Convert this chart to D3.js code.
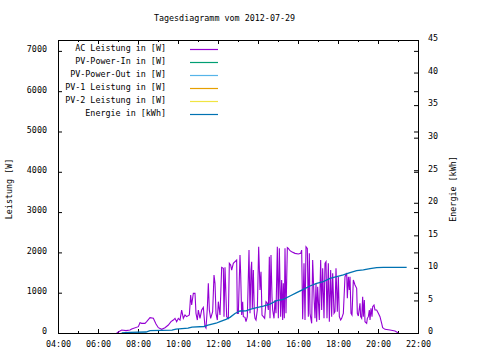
<!DOCTYPE html>
<html><head><meta charset="utf-8">
<script src="https://cdn.jsdelivr.net/npm/d3@7/dist/d3.min.js"></script>
<style>
html,body{margin:0;padding:0;background:#fff;}
svg{display:block;}
text{font-family:"DejaVu Sans Mono",monospace;font-size:8.4px;fill:#000;}
</style></head>
<body>
<svg id="c" width="480" height="360"></svg>
<script>
const title = "Tagesdiagramm vom 2012-07-29";
const yLabel = "Leistung [W]";
const y2Label = "Energie [kWh]";
const seriesNames = ["AC Leistung in [W]","PV-Power-In in [W]","PV-Power-Out in [W]","PV-1 Leistung in [W]","PV-2 Leistung in [W]","Energie in [kWh]"];
const seriesColors = ["#9400d3","#009e73","#56b4e9","#e69f00","#f0e442","#0072b2"];
const xTickLabels = ["04:00","06:00","08:00","10:00","12:00","14:00","16:00","18:00","20:00","22:00"];
const yTicks = [0,1000,2000,3000,4000,5000,6000,7000];
const y2Ticks = [0,5,10,15,20,25,30,35,40,45];

const acTime = ["06:56","07:11","07:24","07:36","07:41","08:01","08:06","08:11","08:21","08:26","08:36","08:46","08:54","09:01","09:11","09:21","09:31","09:39","09:46","09:51","09:56","10:01","10:06","10:11","10:16","10:21","10:26","10:34","10:38","10:41","10:46","10:51","10:54","10:58","11:01","11:06","11:11","11:16","11:21","11:24","11:28","11:31","11:34","11:38","11:44","11:48","11:51","11:54","11:58","12:01","12:06","12:11","12:16","12:18","12:21","12:26","12:31","12:34","12:38","12:41","12:46","12:51","12:56",
"12:58","13:01","13:06","13:08","13:11","13:14","13:16","13:21","13:24","13:28","13:33","13:36","13:39","13:41","13:43","13:46","13:49","13:51","13:54","13:58","14:02","14:06","14:09","14:12","14:16","14:20","14:24","14:28","14:31","14:34","14:36","14:39","14:42","14:44","14:48","14:51","14:54","14:58","15:01","15:04","15:08","15:11","15:14","15:16","15:19","15:21","15:24","15:28","15:31","15:36","15:41","15:51","16:01","16:08","16:11","16:14","16:18","16:21","16:24","16:28","16:31","16:34","16:36","16:41","16:44","16:48","16:51","16:54","16:56","16:59","17:04","17:08","17:11","17:14","17:18","17:21","17:24","17:27","17:31","17:34","17:38","17:41","17:44","17:48","17:51","17:54","17:58","18:01","18:04","18:08","18:11","18:16","18:21","18:26","18:28","18:31","18:34","18:36","18:39","18:42","18:46","18:51","18:56","18:58","19:01","19:06","19:08","19:11","19:14","19:16","19:19","19:21","19:26","19:28","19:31","19:34","19:36","19:39","19:42","19:44","19:48","19:51","19:56","20:01","20:06","20:11","20:14","20:21","20:36","20:51","21:01"];
const acPower = [0,74,60,74,99,157,256,240,240,281,380,364,223,132,91,132,198,281,322,364,281,364,322,570,364,446,405,446,942,694,984,984,488,322,570,364,570,636,157,120,612,1232,570,364,529,1438,1232,488,322,777,446,1629,1604,405,1629,405,364,1728,1686,1562,1728,1769,1810,
488,488,1934,1480,446,777,405,389,281,405,2058,488,1562,1769,612,1562,488,364,322,570,2141,1066,1521,446,405,364,777,736,570,1893,364,1934,901,570,364,818,488,2141,364,2100,405,1314,322,1232,364,2100,488,2120,2100,2042,2017,1976,1960,1976,2058,339,1728,322,2141,2100,405,1976,488,240,1810,901,364,1232,281,1149,322,1810,570,1604,364,1728,1769,364,1728,281,1562,405,1480,488,529,1604,529,1397,405,322,364,488,1397,1488,860,1397,1066,1397,488,446,1314,1190,1108,488,422,736,405,364,901,405,818,281,240,364,405,570,322,612,405,653,694,570,570,488,405,240,132,91,74,50,0];

const eTime = ["07:11","07:36","08:24","08:36","09:42","09:54","10:30","10:42","11:18","11:30","11:54","12:06","12:24","12:36","12:51","13:06","13:24","13:36","13:56","14:16","14:36","14:56","15:16","15:36","15:56","16:16","16:36","16:56","17:16","17:36","17:56","18:16","18:36","18:56","19:16","19:36","19:56","20:16","21:26"];
const eValue = [0,0.1,0.15,0.35,0.45,0.6,0.75,0.9,1.0,1.2,1.5,1.75,2.1,2.4,3.0,3.38,3.4,3.63,3.89,4.14,4.45,4.97,5.17,5.68,6.19,6.7,7.22,7.63,7.88,8.4,8.65,8.91,9.27,9.57,9.68,9.88,10.03,10.08,10.08];

const L=58, R=418, T=40, B=333;
const svg = d3.select("#c");
const parse = d3.timeParse("%H:%M");
const x = d3.scaleTime().domain([parse("04:00"), parse("22:00")]).range([L,R]);
const y = d3.scaleLinear().domain([0,7270]).range([B,T]);
const y2 = d3.scaleLinear().domain([0,45]).range([B,T]);

const majorX = xTickLabels.map(parse);
const minorX = d3.range(5,22,2).map(h=>parse((h<10?"0":"")+h+":00"));
const fmt = d3.timeFormat("%H:%M");

function clean(g){ g.select(".domain").remove(); g.selectAll("line").attr("stroke","#000"); }

svg.append("g").attr("transform",`translate(0,${B})`)
  .call(d3.axisBottom(x).tickValues(majorX).tickFormat(fmt).tickSizeInner(-4).tickSizeOuter(0).tickPadding(8))
  .call(clean).call(g=>g.selectAll("text").attr("font-size",null).attr("font-family",null));
svg.append("g").attr("transform",`translate(0,${B})`)
  .call(d3.axisBottom(x).tickValues(minorX).tickFormat("").tickSizeInner(-2).tickSizeOuter(0)).call(clean);
svg.append("g").attr("transform",`translate(0,${T})`)
  .call(d3.axisTop(x).tickValues(majorX).tickFormat("").tickSizeInner(-4).tickSizeOuter(0)).call(clean);
svg.append("g").attr("transform",`translate(0,${T})`)
  .call(d3.axisTop(x).tickValues(minorX).tickFormat("").tickSizeInner(-2).tickSizeOuter(0)).call(clean);

svg.append("g").attr("transform",`translate(${L},0)`)
  .call(d3.axisLeft(y).tickValues(yTicks).tickFormat(d3.format("d")).tickSizeInner(-4).tickSizeOuter(0).tickPadding(11))
  .call(clean).call(g=>g.selectAll("text").attr("dy","0.1em").attr("font-size",null).attr("font-family",null));
svg.append("g").attr("transform",`translate(${R},0)`)
  .call(d3.axisRight(y).tickValues(yTicks).tickFormat("").tickSizeInner(-4).tickSizeOuter(0)).call(clean);
svg.append("g").attr("transform",`translate(${R},0)`)
  .call(d3.axisRight(y2).tickValues(y2Ticks).tickFormat(d3.format("d")).tickSizeInner(-4).tickSizeOuter(0).tickPadding(10))
  .call(clean).call(g=>g.selectAll("text").attr("dy","0.1em").attr("font-size",null).attr("font-family",null));

// data lines
const acData = acTime.map((t,i)=>({t:parse(t), v:acPower[i]}));
const eData = eTime.map((t,i)=>({t:parse(t), v:eValue[i]}));
svg.append("path").datum(acData)
  .attr("d", d3.line().x(d=>x(d.t)).y(d=>y(d.v)))
  .attr("fill","none").attr("stroke",seriesColors[0]).attr("stroke-width",1.1);
svg.append("path").datum(eData)
  .attr("d", d3.line().x(d=>x(d.t)).y(d=>y2(d.v)))
  .attr("fill","none").attr("stroke",seriesColors[5]).attr("stroke-width",1.3);

// frame
svg.append("rect").attr("x",L).attr("y",T).attr("width",R-L).attr("height",B-T)
  .attr("fill","none").attr("stroke","#000").attr("stroke-width",1).attr("shape-rendering","crispEdges");

// legend
const leg = svg.append("g");
seriesNames.forEach((n,i)=>{
  const ly = 49.5 + i*13;
  leg.append("text").attr("x",166).attr("y",ly+1).attr("text-anchor","end").text(n);
  leg.append("line").attr("x1",190).attr("x2",218).attr("y1",ly).attr("y2",ly)
    .attr("stroke",seriesColors[i]).attr("stroke-width",1.2);
});

svg.append("text").attr("x",224.5).attr("y",20.5).attr("text-anchor","middle").text(title);
svg.append("text").attr("transform","translate(11.5,189) rotate(-90)").attr("text-anchor","middle").text(yLabel);
svg.append("text").attr("transform","translate(456,189) rotate(-90)").attr("text-anchor","middle").text(y2Label);
</script>
</body></html>
